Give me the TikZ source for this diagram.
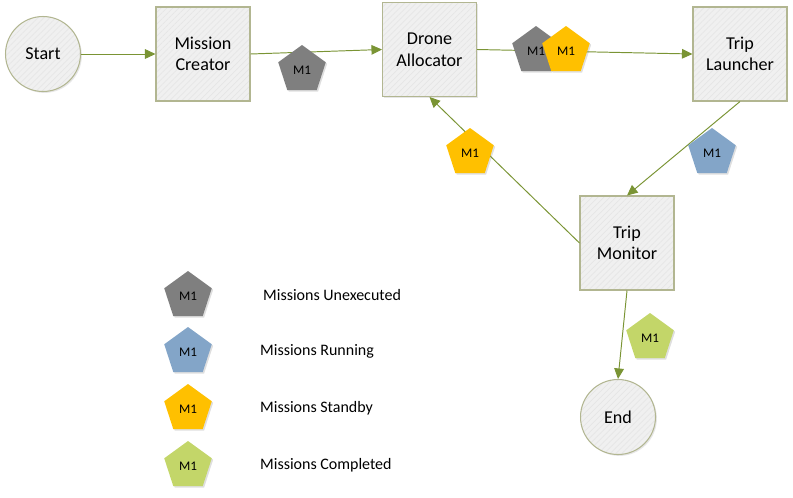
\documentclass[tikz,border=0pt]{standalone}
\usepackage{fontspec}
\setmainfont{Carlito}
\usetikzlibrary{arrows.meta, shapes.geometric, shadows, patterns.meta}

\definecolor{flowgreen}{RGB}{122,148,52}
\definecolor{boxfill}{RGB}{240,240,240}
\definecolor{boxstripe}{RGB}{230,230,230}
\definecolor{boxline}{RGB}{178,182,145}
\definecolor{tokgray}{RGB}{127,127,127}
\definecolor{tokblue}{RGB}{131,165,200}
\definecolor{tokyellow}{RGB}{255,192,0}
\definecolor{tokgreen}{RGB}{195,214,105}

\begin{document}
\begin{tikzpicture}[
    x=0.02cm,
    y=-0.02cm,
    font=\fontsize{10.3}{12.3}\selectfont,
    box/.style={
        rectangle,
        drop shadow={opacity=0.2, shadow xshift=0.8pt, shadow yshift=-0.8pt},
        preaction={fill=boxfill},
        pattern={Lines[angle=45, distance=2.4pt, line width=0.4pt]},
        pattern color=boxstripe,
        draw=boxline,
        line width=0.6pt,
        align=center,
        minimum width=1.88cm,
        minimum height=1.88cm
    },
    terminal/.style={
        circle,
        drop shadow={opacity=0.2, shadow xshift=0.8pt, shadow yshift=-0.8pt},
        preaction={fill=boxfill},
        pattern={Lines[angle=45, distance=2.4pt, line width=0.4pt]},
        pattern color=boxstripe,
        draw=boxline,
        line width=0.6pt,
        align=center,
        minimum size=1.5cm
    },
    token/.style={
        regular polygon,
        regular polygon sides=5,
        minimum size=1.0cm,
        inner sep=0pt,
        fill=#1,
        drop shadow={opacity=0.25, shadow xshift=0.8pt, shadow yshift=-0.8pt},
        font=\fontsize{7.5}{9}\selectfont
    },
    arrow/.style={
        draw=flowgreen,
        line width=0.55pt,
        -{Triangle[length=6pt, width=5.5pt]}
    },
    legendtext/.style={
        anchor=west,
        font=\fontsize{9.1}{11}\selectfont
    }
]
    % Flow stages
    \useasboundingbox (0,0) rectangle (793,497);
    \node [terminal] (start) at (43,54) {Start};
    \node [box] (creator) at (203,54) {Mission\\Creator};
    \node [box] (allocator) at (429.5,49.5) {Drone\\Allocator};
    \node [box] (launcher) at (740,54) {Trip\\Launcher};
    \node [box] (monitor) at (627,243) {Trip\\Monitor};
    \node [terminal] (finish) at (618,417) {End};

    % Connections
    \draw [arrow] (start.east) -- (creator.west);
    \draw [arrow] (creator.east) -- (allocator.west);
    \draw [arrow] (allocator.east) -- (launcher.west);
    \draw [arrow] (launcher.south) -- (monitor.north);
    \draw [arrow] (monitor.west) -- (allocator.south);
    \draw [arrow] (monitor.south) -- (finish.north);

    % Mission tokens on the flow
    \node [token=tokgray] (tokCreated) at (302,70) {M1};
    \node [token=tokgray] (tokWaiting) at (536,51) {M1};
    \node [token=tokyellow] (tokAllocated) at (566,51) {M1};
    \node [token=tokyellow] (tokReturned) at (470,153) {M1};
    \node [token=tokblue] (tokRunning) at (712,153) {M1};
    \node [token=tokgreen] (tokDone) at (650,338) {M1};

    % Legend
    \node [token=tokgray] (keyUnexec) at (188,296) {M1};
    \node [token=tokblue] (keyRun) at (188,352) {M1};
    \node [token=tokyellow] (keyStandby) at (188,409) {M1};
    \node [token=tokgreen] (keyDone) at (188,466) {M1};
    \node [legendtext] (txtUnexec) at (257,295) {Missions Unexecuted};
    \node [legendtext] (txtRun) at (254,351) {Missions Running};
    \node [legendtext] (txtStandby) at (254,408) {Missions Standby};
    \node [legendtext] (txtDone) at (254,465) {Missions Completed};
\end{tikzpicture}
\end{document}
